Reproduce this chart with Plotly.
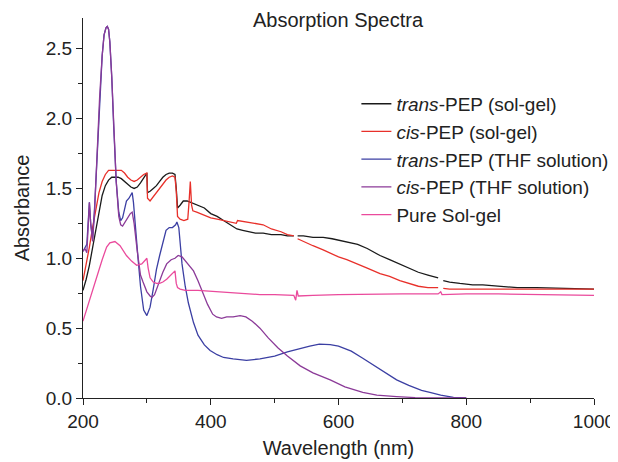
import plotly.graph_objects as go

# --- data (wavelength in nm, absorbance) ---
trans_gel_wl = [200, 205, 210, 215, 220, 225, 230, 235, 240, 245, 250, 255, 260, 265, 270, 275, 280, 285,
                290, 295, 300, 301, 305, 310, 315, 320, 325, 330, 335, 340, 344, 346, 348, 352, 357, 363,
                368, 375, 383, 390, 400, 410, 420, 430, 441, 450, 460, 470, 482, 495, 510, 520, 530, 533,
                536, 545, 560, 576, 590, 600, 613, 630, 645, 665, 680, 696, 710, 725, 740, 756, 760,
                764, 774, 790, 810, 826, 852, 880, 910, 940, 970, 1000]
trans_gel_abs = [0.77, 0.85, 0.95, 1.08, 1.22, 1.35, 1.45, 1.52, 1.56, 1.58, 1.58, 1.58, 1.57, 1.55, 1.53, 1.51, 1.50, 1.51,
                 1.54, 1.58, 1.61, 1.47, 1.48, 1.50, 1.52, 1.55, 1.58, 1.60, 1.61, 1.61, 1.60, 1.50, 1.36, 1.38, 1.41, 1.41,
                 1.40, 1.39, 1.37, 1.36, 1.32, 1.30, 1.27, 1.24, 1.21, 1.20, 1.19, 1.18, 1.18, 1.17, 1.17, 1.16, 1.16, None,
                 1.16, 1.16, 1.15, 1.15, 1.14, 1.13, 1.12, 1.10, 1.07, 1.02, 0.99, 0.96, 0.93, 0.90, 0.88, 0.86, None,
                 0.84, 0.83, 0.82, 0.81, 0.81, 0.80, 0.79, 0.79, 0.785, 0.78, 0.78]

cis_gel_wl = [200, 205, 210, 215, 220, 225, 230, 235, 240, 245, 250, 255, 260, 265, 270, 275, 280, 285, 290, 295,
              300, 301, 305, 310, 315, 320, 325, 330, 335, 340, 344, 346, 348, 352, 358, 364, 366, 368, 370, 372,
              378, 390, 400, 410, 420, 430, 440, 442, 455, 470, 482, 495, 510, 520, 530, 533,
              536, 545, 560, 576, 590, 600, 613, 630, 645, 665, 680, 696, 710, 725, 740, 756, 760,
              764, 774, 800, 850, 900, 950, 1000]
cis_gel_abs = [0.84, 0.95, 1.08, 1.22, 1.36, 1.47, 1.55, 1.60, 1.63, 1.63, 1.63, 1.63, 1.63, 1.61, 1.58, 1.56, 1.55, 1.56, 1.58, 1.60,
               1.61, 1.43, 1.41, 1.44, 1.47, 1.50, 1.53, 1.56, 1.58, 1.59, 1.58, 1.48, 1.30, 1.28, 1.27, 1.28, 1.40, 1.55, 1.38, 1.34,
               1.33, 1.31, 1.29, 1.28, 1.27, 1.26, 1.25, 1.27, 1.26, 1.25, 1.24, 1.21, 1.19, 1.17, 1.16, None,
               1.14, 1.12, 1.09, 1.06, 1.03, 1.01, 0.99, 0.96, 0.93, 0.89, 0.87, 0.84, 0.82, 0.80, 0.79, 0.79, None,
               0.785, 0.78, 0.78, 0.78, 0.78, 0.78, 0.78]

trans_thf_wl = [200, 203, 206, 208, 210, 212, 215, 218, 222, 226, 230, 233, 236, 238, 240, 242, 245, 248, 252, 256,
                259, 262, 265, 268, 272, 275, 277, 279, 282, 286, 290, 295, 300, 305, 310, 315, 320, 325, 330, 335,
                340, 345, 347, 350, 355, 360, 365, 373, 380, 390, 399, 410, 420, 435, 456, 477, 500, 520, 540, 555,
                570, 587, 600, 620, 638, 660, 680, 691, 710, 730, 743, 760, 780, 800]
trans_thf_abs = [1.05, 1.08, 1.10, 1.25, 1.40, 1.25, 1.14, 1.35, 1.75, 2.15, 2.45, 2.60, 2.65, 2.66, 2.64, 2.55, 2.30, 1.95, 1.55, 1.33,
                 1.27, 1.29, 1.35, 1.41, 1.43, 1.45, 1.47, 1.40, 1.20, 1.01, 0.80, 0.63, 0.59, 0.65, 0.78, 0.92, 1.02, 1.12, 1.20, 1.22,
                 1.22, 1.24, 1.26, 1.22, 0.96, 0.80, 0.68, 0.54, 0.45, 0.38, 0.34, 0.31, 0.29, 0.28, 0.27, 0.28, 0.30, 0.33, 0.355, 0.372,
                 0.385, 0.382, 0.372, 0.335, 0.285, 0.22, 0.16, 0.13, 0.09, 0.055, 0.04, 0.02, 0.005, 0.0]

cis_thf_wl = [200, 203, 206, 208, 210, 212, 215, 218, 222, 226, 230, 233, 236, 238, 240, 242, 245, 248, 252, 256,
              259, 262, 266, 270, 274, 277, 280, 285, 290, 294, 300, 305, 308, 312, 318, 325, 331, 338, 344, 349,
              355, 362, 373, 380, 388, 395, 403, 409, 417, 425, 435, 446, 455, 465, 477, 490, 505, 520, 540, 560,
              587, 610, 638, 660, 691, 720, 760, 800]
cis_thf_abs = [1.05, 1.07, 1.04, 1.25, 1.40, 1.25, 1.12, 1.33, 1.75, 2.15, 2.45, 2.60, 2.65, 2.66, 2.64, 2.55, 2.30, 1.95, 1.55, 1.30,
               1.24, 1.23, 1.26, 1.30, 1.32, 1.33, 1.25, 1.05, 0.88, 0.83, 0.76, 0.73, 0.72, 0.74, 0.82, 0.90, 0.96, 0.99, 1.00, 1.02,
               1.01, 0.97, 0.91, 0.84, 0.75, 0.67, 0.60, 0.58, 0.57, 0.58, 0.58, 0.59, 0.58, 0.55, 0.50, 0.43, 0.36, 0.30, 0.23, 0.18,
               0.13, 0.08, 0.04, 0.02, 0.01, 0.003, 0.0, 0.0]

solgel_wl = [200, 210, 220, 230, 237, 242, 250, 258, 268, 276, 284, 292, 298, 300, 302, 305, 310, 315, 320, 325,
             331, 338, 344, 346, 348, 352, 360, 380, 399, 430, 477, 500, 520, 530, 533, 535, 537, 545, 560, 600,
             650, 700, 756, 760, 762, 800, 850, 900, 950, 1000]
solgel_abs = [0.55, 0.70, 0.85, 0.99, 1.08, 1.11, 1.12, 1.09, 1.02, 0.98, 0.95, 0.96, 0.99, 1.00, 0.93, 0.86, 0.83, 0.82, 0.82, 0.83,
              0.85, 0.88, 0.91, 0.82, 0.79, 0.78, 0.77, 0.77, 0.765, 0.755, 0.74, 0.74, 0.735, 0.735, 0.70, 0.77, 0.73, 0.73, 0.735, 0.74,
              0.745, 0.745, 0.745, 0.76, 0.74, 0.745, 0.745, 0.74, 0.74, 0.735]

series = [
    ("<i>trans</i>-PEP (sol-gel)", trans_gel_wl, trans_gel_abs, "#1a1a1a"),
    ("<i>cis</i>-PEP (sol-gel)", cis_gel_wl, cis_gel_abs, "#e8302a"),
    ("<i>trans</i>-PEP (THF solution)", trans_thf_wl, trans_thf_abs, "#3b3fa3"),
    ("<i>cis</i>-PEP (THF solution)", cis_thf_wl, cis_thf_abs, "#8b3a98"),
    ("Pure Sol-gel", solgel_wl, solgel_abs, "#ea4a9c"),
]

FONT = "Liberation Sans, Arial, Helvetica, sans-serif"

fig = go.Figure()
for name, wl, ab, color in series:
    fig.add_trace(go.Scatter(
        x=wl, y=ab, mode="lines", name=name,
        line=dict(color=color, width=1.3),
    ))

axis_common = dict(
    showline=True, linecolor="#222", linewidth=1.2, automargin=False,
    ticks="outside", ticklen=6, tickwidth=1.2, tickcolor="#222",
    showgrid=False, zeroline=False, mirror=False, ticklabeloverflow="allow",
    tickfont=dict(size=19, color="#222", family=FONT),
    title_font=dict(size=20, color="#222", family=FONT),
)

fig.update_xaxes(
    range=[200, 1000], dtick=200, title_text="Wavelength (nm)", title_standoff=10,
    minor=dict(dtick=100, ticks="outside", ticklen=4, tickwidth=1.2, tickcolor="#222"),
    **axis_common
)
fig.update_yaxes(
    range=[0, 2.72], dtick=0.5, tickformat=".1f", title_text="Absorbance", title_standoff=10,
    minor=dict(dtick=0.25, ticks="outside", ticklen=4, tickwidth=1.2, tickcolor="#222"),
    **axis_common
)

# the page puts the figure 8px in from the top-left corner: shrink it so it fits the window
fig.update_layout(
    width=610, height=454,
    margin=dict(l=75, r=24, t=10, b=64, autoexpand=False),
    paper_bgcolor="white", plot_bgcolor="white",
    font=dict(family=FONT, color="#222"),
    title=dict(text="Absorption Spectra", x=0.541, xanchor="center", y=0.974, yanchor="middle",
               font=dict(size=20, color="#222", family=FONT)),
    legend=dict(x=0.535, y=0.824, xanchor="left", yanchor="top",
                bgcolor="rgba(0,0,0,0)", font=dict(size=19, color="#222", family=FONT),
                tracegroupgap=0, itemwidth=30),
    showlegend=True,
)

fig.write_html("out.html")
